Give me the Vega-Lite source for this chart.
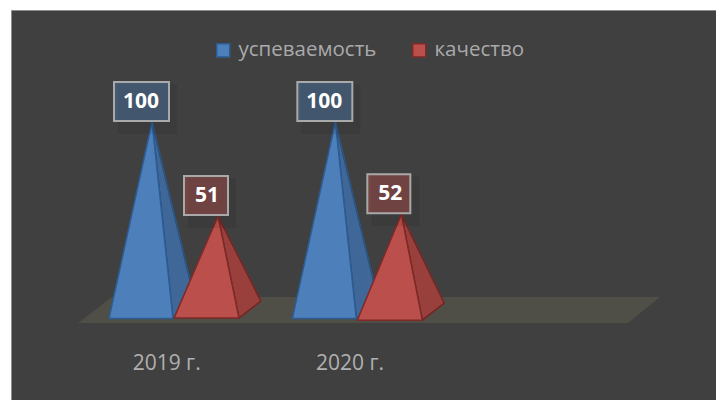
{
"$schema":"https://vega.github.io/schema/vega-lite/v6.json",
"width":707,"height":392,
"autosize":{"type":"none"},
"padding":{"left":11,"top":10,"right":0,"bottom":0},
"background":"#ffffff",
"view":{"fill":"#404040","stroke":"#8c8c8c","strokeWidth":1},
"data":{"values":[
{"year":"2019 г.","series":"успеваемость","value":100},
{"year":"2019 г.","series":"качество","value":51},
{"year":"2020 г.","series":"успеваемость","value":100},
{"year":"2020 г.","series":"качество","value":52}
]},
"encoding":{
"x":{"field":"year","type":"nominal","sort":null,
 "scale":{"domain":["2019 г.","2020 г.",""],"range":[67,617],"paddingInner":0,"paddingOuter":0},
 "axis":{"title":null,"domain":false,"ticks":false,"labelAngle":0,"labelFont":"Open Sans","labelFontSize":21,"labelColor":"#b0b0b0","labelOffset":-3,"offset":-50,"labelPadding":0,"grid":false}},
"xOffset":{"field":"series","type":"nominal","sort":null,"scale":{"type":"point","padding":0,"domain":["успеваемость","качество"],"range":[74,140]}},
"y":{"field":"value","type":"quantitative","scale":{"domain":[0,100],"range":[304,112],"nice":false,"zero":false},"axis":null}
},
"layer":[
{"transform":[{"filter":"datum.year==='2019 г.' && datum.value===100"}],
 "mark":{"type":"point","filled":true,"opacity":1,"size":4,"fill":"#4f4f47","strokeWidth":0,"shape":"M-74 201L476 201L508 175L-40 175Z"}},
{"mark":{"type":"point","filled":true,"opacity":1,"size":4,"fillOpacity":1,"strokeWidth":1.5},
 "encoding":{
  "fill":{"field":"series","type":"nominal","scale":{"domain":["успеваемость","качество"],"range":["#4d7fba","#bb4f4b"]},
   "legend":{"title":null,"orient":"none","legendX":202,"legendY":30,"direction":"horizontal","symbolType":"square","symbolSize":170,"symbolStrokeWidth":1.5,"labelFont":"Open Sans","labelFontSize":20.5,"labelColor":"#aaaaaa","columnPadding":32,"labelOffset":5,"symbolOpacity":1}},
  "stroke":{"field":"series","type":"nominal","scale":{"domain":["успеваемость","качество"],"range":["#2c5c92","#7e2a28"]},
   "legend":{"title":null,"orient":"none","legendX":202,"legendY":30,"direction":"horizontal","symbolType":"square","symbolSize":170,"symbolStrokeWidth":1.5,"labelFont":"Open Sans","labelFontSize":20.5,"labelColor":"#aaaaaa","columnPadding":32,"labelOffset":5,"symbolOpacity":1}},
  "shape":{"field":"value","type":"nominal","legend":null,"scale":{"domain":[100,51,52],"range":["M0 0L21 196.5L43 179Z","M0 0L21 102L43 85Z","M0 0L21 106L43 89Z"]}}
 }},
{"mark":{"type":"point","filled":true,"opacity":1,"size":4,"fill":"#000000","fillOpacity":0.18,"strokeWidth":0},
 "encoding":{
  "shape":{"field":"value","type":"nominal","legend":null,"scale":{"domain":[100,51,52],"range":["M0 0L21 196.5L43 179Z","M0 0L21 102L43 85Z","M0 0L21 106L43 89Z"]}}
 }},
{"mark":{"type":"point","filled":true,"opacity":1,"size":4,"fillOpacity":1,"strokeWidth":1.5},
 "encoding":{
  "fill":{"field":"series","type":"nominal"},
  "stroke":{"field":"series","type":"nominal"},
  "shape":{"field":"value","type":"nominal","legend":null,"scale":{"domain":[100,51,52],"range":["M0 0L-43 196.5L21 196.5Z","M0 0L-44 102L21 102Z","M0 0L-44 106L21 106Z"]}}
 }},
{"mark":{"type":"point","filled":true,"opacity":1,"size":4,"fill":"#000000","fillOpacity":0.07,"strokeWidth":0},
 "encoding":{
  "shape":{"field":"value","type":"nominal","legend":null,"scale":{"domain":[100,51,52],"range":["M-34 -38L25 -38L25 12L-34 12Z","M-30 -38L18 -38L18 12L-30 12Z","M-30 -38L18 -38L18 12L-30 12Z"]}}
 }},
{"mark":{"type":"point","filled":true,"opacity":1,"size":4,"fillOpacity":0.4,"stroke":"#a9a9a9","strokeWidth":2},
 "encoding":{
  "fill":{"field":"series","type":"nominal"},
  "shape":{"field":"value","type":"nominal","legend":null,"scale":{"domain":[100,51,52],"range":["M-38 -40L17 -40L17 -1L-38 -1Z","M-34 -40L10 -40L10 -1L-34 -1Z","M-34 -40L9 -40L9 -1L-34 -1Z"]}}
 }},
{"mark":{"type":"text","font":"Open Sans","fontWeight":"bold","fontSize":21,"color":"#ffffff","align":"center","baseline":"middle","dx":-11,"dy":-20},
 "encoding":{"text":{"field":"value","type":"quantitative"}}}
],
"resolve":{"scale":{"shape":"independent"}}
}
